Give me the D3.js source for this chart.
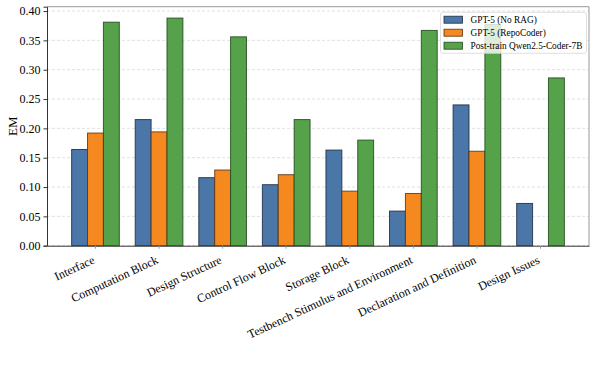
<!DOCTYPE html>
<html><head><meta charset="utf-8">
<script src="https://cdn.jsdelivr.net/npm/d3@7"></script>
<style>body{margin:0;background:#fff}svg{display:block}</style>
</head><body><div id="chart"></div>
<script>
const categories = ["Interface","Computation Block","Design Structure","Control Flow Block","Storage Block","Testbench Stimulus and Environment","Declaration and Definition","Design Issues"];
const seriesNames = ["GPT-5 (No RAG)","GPT-5 (RepoCoder)","Post-train Qwen2.5-Coder-7B"];
const noRag = [0.164,0.215,0.116,0.104,0.163,0.059,0.240,0.072];
const repoCoder = [0.192,0.194,0.129,0.121,0.093,0.089,0.161,0.0];
const postTrain = [0.381,0.388,0.356,0.215,0.180,0.367,0.377,0.286];
const yTicks = [0,0.05,0.10,0.15,0.20,0.25,0.30,0.35,0.40];
const colors = ["#4a76a8","#f5881f","#55a24b"];
const edges = ["#1d2c40","#5a3512","#1f4a1b"];

const W=598,H=373, L=47, R=589, T=6.7, B=245.7;
const FONT="'Liberation Serif','Times New Roman',serif";
const svg=d3.select("#chart").append("svg").attr("width",W).attr("height",H)
  .style("font-family",FONT);
const values=[noRag,repoCoder,postTrain];
const ymax=d3.max(values.flat())*1.05;
const y=d3.scaleLinear().domain([0,ymax]).range([B,T]);
const x=d3.scaleBand().domain(categories).range([L,R]).paddingInner(0.25).paddingOuter(0.3875);
const xs=d3.scaleBand().domain(seriesNames).range([0,x.bandwidth()]);

// grid
svg.append("g").selectAll("line").data(yTicks).join("line")
  .attr("x1",L).attr("x2",R).attr("y1",d=>y(d)).attr("y2",d=>y(d))
  .attr("stroke","#d4d4d4").attr("stroke-width",0.7).attr("stroke-dasharray","3,2");

// bars
seriesNames.forEach((s,si)=>{
  svg.append("g").selectAll("rect").data(categories).join("rect")
    .attr("x",c=>x(c)+xs(s)).attr("width",xs.bandwidth())
    .attr("y",(c,i)=>y(values[si][i])).attr("height",(c,i)=>B-y(values[si][i]))
    .attr("fill",colors[si]).attr("stroke",edges[si]).attr("stroke-opacity",(c,i)=>values[si][i]>0?0.85:0).attr("stroke-width",1);
});

// frame
svg.append("line").attr("x1",L).attr("x2",R).attr("y1",T).attr("y2",T).attr("stroke","#999").attr("stroke-width",1);
svg.append("line").attr("x1",R).attr("x2",R).attr("y1",T).attr("y2",B).attr("stroke","#999").attr("stroke-width",1);

// axes
const ya=svg.append("g").attr("transform",`translate(${L},0)`)
  .call(d3.axisLeft(y).tickValues(yTicks).tickFormat(d3.format(".2f")).tickSize(3.5).tickPadding(3));
ya.select(".domain").attr("stroke","#333").attr("stroke-width",1);
ya.selectAll(".tick line").attr("stroke","#333");
ya.selectAll("text").attr("font-size",12).attr("fill","#000").attr("font-family",FONT);

const xa=svg.append("g").attr("transform",`translate(0,${B})`)
  .call(d3.axisBottom(x).tickSize(3).tickSizeOuter(0));
xa.select(".domain").attr("stroke","#333").attr("stroke-width",1);
xa.selectAll(".tick line").attr("stroke","#999");
xa.selectAll("text").attr("font-size",12).attr("fill","#000").attr("font-family",FONT)
  .attr("text-anchor","end").attr("dy",null).attr("y",0)
  .attr("transform","translate(0,17) rotate(-25)");

// y label
svg.append("text").attr("transform",`translate(17,${(T+B)/2}) rotate(-90)`)
  .attr("text-anchor","middle").attr("font-size",13).text("EM");

// legend
const lg=svg.append("g").attr("transform","translate(440.5,12.3)");
lg.append("rect").attr("width",146).attr("height",41).attr("rx",2)
  .attr("fill","#fff").attr("fill-opacity",0.8).attr("stroke","#d8d8d8").attr("stroke-width",0.8);
seriesNames.forEach((s,i)=>{
  const row=lg.append("g").attr("transform",`translate(0,${7.4+i*13})`);
  row.append("rect").attr("x",3.5).attr("y",-3.5).attr("width",18.5).attr("height",7)
    .attr("fill",colors[i]).attr("stroke",edges[i]).attr("stroke-width",0.8);
  row.append("text").attr("x",30).attr("y",3.3).attr("font-size",9.3).text(s);
});
</script></body></html>
